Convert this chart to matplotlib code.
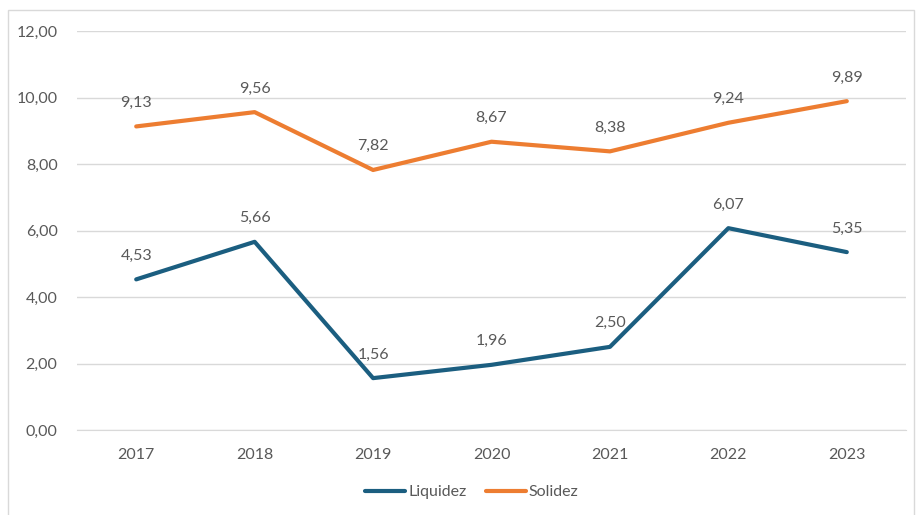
import matplotlib.pyplot as plt
from matplotlib.patches import Rectangle

years = ['2017', '2018', '2019', '2020', '2021', '2022', '2023']
liquidez = [4.53, 5.66, 1.56, 1.96, 2.50, 6.07, 5.35]
solidez = [9.13, 9.56, 7.82, 8.67, 8.38, 9.24, 9.89]
yticks = [0, 2, 4, 6, 8, 10, 12]

plt.rcParams['font.family'] = ['Lato', 'DejaVu Sans']
gray = '#595959'
fs = 11.5

fig = plt.figure(figsize=(9.16, 5.15), dpi=100)
ax = fig.add_axes([77/916, 1 - 430/515, 829/916, 399/515])

x = range(len(years))
ax.plot(x, liquidez, color='#1B5E80', lw=3, solid_capstyle='round', label='Liquidez')
ax.plot(x, solidez, color='#ED7D31', lw=3, solid_capstyle='round', label='Solidez')

# value labels above each point
for serie in (liquidez, solidez):
    for i, v in enumerate(serie):
        ax.annotate(f'{v:.2f}'.replace('.', ','), (i, v), xytext=(0, 17), textcoords='offset points',
                    ha='center', va='center', fontsize=fs, color=gray)

ax.set_xlim(-0.5, 6.5)
ax.set_ylim(0, 12)
ax.set_xticks(list(x))
ax.set_xticklabels(years)
ax.set_yticks(yticks)
ax.set_yticklabels([f'{t:.2f}'.replace('.', ',') for t in yticks])
ax.tick_params(length=0, labelsize=fs, labelcolor=gray)
ax.tick_params(axis='x', pad=13)
ax.tick_params(axis='y', pad=14)
ax.grid(axis='y', color='#D9D9D9', lw=1)
ax.set_axisbelow(True)
for s in ['top', 'right', 'left']:
    ax.spines[s].set_visible(False)
ax.spines['bottom'].set_color('#D9D9D9')

fig.legend(loc='center', bbox_to_anchor=(472/916, 1 - 492/515), ncol=2, frameon=False,
           fontsize=fs, labelcolor=gray, handlelength=2.5, handletextpad=0.2, columnspacing=1.2)

fig.patches.append(Rectangle((8/916, -0.01), 906/916, 1 - 10/515 + 0.01, transform=fig.transFigure,
                             fill=False, edgecolor='#D9D9D9', lw=1))

fig.savefig('out.png', dpi=100)
